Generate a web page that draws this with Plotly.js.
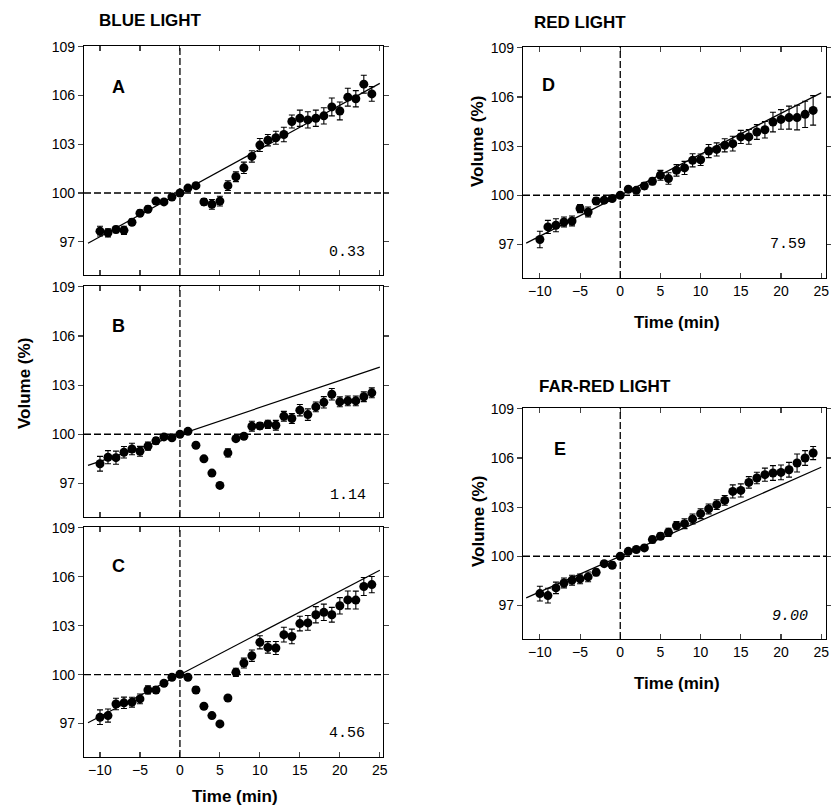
<!DOCTYPE html>
<html><head><meta charset="utf-8">
<script src="https://cdn.plot.ly/plotly-3.0.1.min.js"></script>
<style>html,body{margin:0;padding:0;background:#fff}#chart{width:831px;height:808px}</style>
</head><body><div id="chart"></div>
<script>
// ---- data ----
const time = [-10,-9,-8,-7,-6,-5,-4,-3,-2,-1,0,1,2,3,4,5,6,7,8,9,10,11,12,13,14,15,16,17,18,19,20,21,22,23,24];

const volA = [97.65,97.55,97.75,97.7,98.2,98.75,99.0,99.5,99.45,99.75,100.0,100.3,100.45,99.45,99.3,99.5,100.45,101.0,101.55,102.25,102.95,103.25,103.4,103.6,104.4,104.6,104.5,104.6,104.75,105.3,105.05,105.9,105.8,106.7,106.1];
const errA = [0.3,0.25,0.2,0.25,0.2,0.2,0.2,0.15,0.15,0.1,0,0.15,0.15,0.2,0.3,0.3,0.3,0.3,0.35,0.35,0.4,0.35,0.4,0.45,0.4,0.5,0.5,0.5,0.5,0.55,0.55,0.55,0.5,0.55,0.45];

const volB = [98.2,98.6,98.57,98.9,99.1,98.96,99.27,99.6,99.84,99.78,100.0,100.18,99.33,98.5,97.63,96.88,98.86,99.73,99.88,100.49,100.51,100.61,100.55,101.1,100.96,101.47,101.2,101.67,101.95,102.44,101.98,102.04,102.04,102.29,102.53];
const errB = [0.45,0.4,0.4,0.35,0.35,0.3,0.25,0.2,0.1,0.1,0,0.1,0.1,0.1,0.1,0.1,0.25,0.15,0.15,0.3,0.2,0.25,0.3,0.3,0.3,0.35,0.35,0.3,0.35,0.35,0.3,0.3,0.3,0.3,0.3];

const volC = [97.39,97.49,98.2,98.27,98.31,98.51,99.06,99.06,99.47,99.84,100.02,99.84,99.06,98.06,97.49,96.98,98.57,100.14,100.71,101.16,101.98,101.67,101.63,102.45,102.34,103.13,103.17,103.67,103.82,103.67,104.22,104.58,104.57,105.4,105.52];
const errC = [0.45,0.4,0.35,0.35,0.3,0.3,0.25,0.2,0.15,0.1,0,0.1,0.2,0.1,0.1,0.1,0.1,0.25,0.3,0.35,0.4,0.35,0.4,0.45,0.45,0.45,0.45,0.5,0.5,0.45,0.5,0.55,0.55,0.55,0.5];

const volD = [97.3,98.07,98.17,98.37,98.43,99.19,98.98,99.65,99.7,99.8,100.0,100.37,100.3,100.57,100.85,101.22,101.02,101.52,101.67,102.13,102.17,102.7,102.8,103.05,103.15,103.56,103.56,103.86,104.0,104.47,104.63,104.74,104.74,104.94,105.18];
const errD = [0.5,0.4,0.4,0.3,0.3,0.25,0.3,0.2,0.15,0.1,0,0.1,0.15,0.2,0.2,0.3,0.35,0.35,0.4,0.4,0.35,0.4,0.4,0.4,0.45,0.4,0.45,0.45,0.5,0.6,0.6,0.7,0.75,0.8,0.9];

const volE = [97.72,97.6,98.07,98.37,98.54,98.62,98.74,99.02,99.55,99.45,100.0,100.3,100.41,100.51,101.02,101.22,101.46,101.87,101.99,102.28,102.6,102.89,103.15,103.41,103.96,104.02,104.51,104.78,104.98,105.08,105.12,105.28,105.69,106.0,106.3];
const errE = [0.45,0.45,0.35,0.3,0.3,0.3,0.3,0.2,0.15,0.2,0,0.1,0.15,0.15,0.2,0.2,0.25,0.25,0.3,0.3,0.3,0.3,0.3,0.3,0.4,0.4,0.35,0.35,0.4,0.45,0.45,0.45,0.55,0.45,0.4];

// regression lines (pre-irradiation trend, extrapolated)
const fitXA = [-11.5, 25], fitYA = [96.9, 106.75];
const fitXB = [-11.5, 25], fitYB = [98.1, 104.1];
const fitXC = [-11.5, 25], fitYC = [97.05, 106.4];
const fitXD = [-11.7, 25], fitYD = [97.08, 106.25];
const fitXE = [-11.7, 25], fitYE = [97.46, 105.43];

const yTicks = [97, 100, 103, 106, 109];
const xTicks = [-10, -5, 0, 5, 10, 15, 20, 25];
const panelLetters = ['A', 'B', 'C', 'D', 'E'];
const rateLabels = ['0.33', '1.14', '4.56', '7.59', '9.00'];
const groupTitles = ['BLUE LIGHT', 'RED LIGHT', 'FAR-RED LIGHT'];
const yTitle = 'Volume (%)';
const xTitle = 'Time (min)';

// ---- build ----
const W = 831, H = 808;
const px = x => x / W;
const py = y => 1 - y / H;
const FONT = 'Liberation Sans, Arial, sans-serif';

const panels = [
  {vol: volA, err: errA, fx: fitXA, fy: fitYA},
  {vol: volB, err: errB, fx: fitXB, fy: fitYB},
  {vol: volC, err: errC, fx: fitXC, fy: fitYC},
  {vol: volD, err: errD, fx: fitXD, fy: fitYD},
  {vol: volE, err: errE, fx: fitXE, fy: fitYE}
];
// pixel boxes: [left, top, right, bottom]
const boxes = [
  [84, 46, 383, 275],
  [84, 286, 383, 517],
  [84, 527, 383, 757],
  [523, 47, 826, 278],
  [523, 408, 826, 639]
];
const xRanges = [[-12, 25.4], [-12, 25.4], [-12, 25.4], [-12.1, 25.6], [-12.1, 25.6]];
const showXLabels = [false, false, true, true, true];

const traces = [];
const layout = {
  width: W, height: H,
  margin: {l: 0, r: 0, t: 0, b: 0},
  paper_bgcolor: '#fff', plot_bgcolor: '#fff',
  showlegend: false,
  font: {family: FONT, color: '#000', size: 14},
  shapes: [], annotations: []
};

panels.forEach((p, i) => {
  const n = i + 1;
  const xa = 'x' + (n === 1 ? '' : n), ya = 'y' + (n === 1 ? '' : n);
  traces.push({
    x: p.fx, y: p.fy, xaxis: xa, yaxis: ya, mode: 'lines', type: 'scatter',
    line: {color: '#000', width: 1.2}, hoverinfo: 'skip'
  });
  traces.push({
    x: time, y: p.vol, xaxis: xa, yaxis: ya, mode: 'markers', type: 'scatter',
    marker: {color: '#000', size: 9},
    error_y: {type: 'data', array: p.err, visible: true, color: '#000', thickness: 1.1, width: 3}
  });
  const b = boxes[i];
  layout['xaxis' + (n === 1 ? '' : n)] = {
    domain: [px(b[0]), px(b[2])], anchor: ya, range: xRanges[i],
    tickmode: 'array', tickvals: xTicks, ticks: 'inside', ticklen: 5, tickwidth: 1.1,
    showticklabels: showXLabels[i], tickfont: {size: 14, family: FONT}, ticklabeloverflow: 'allow',
    showline: true, linecolor: '#000', linewidth: 1.2, mirror: 'ticks',
    showgrid: false, zeroline: false, fixedrange: true
  };
  layout['yaxis' + (n === 1 ? '' : n)] = {
    domain: [py(b[3]), py(b[1])], anchor: xa, range: [94.95, 109.05],
    tickmode: 'array', tickvals: yTicks, ticks: 'outside', ticklen: 5, tickwidth: 1.1,
    tickfont: {size: 14, family: FONT},
    showline: true, linecolor: '#000', linewidth: 1.2, mirror: 'ticks',
    showgrid: false, zeroline: false, fixedrange: true
  };
  // dashed reference lines
  layout.shapes.push({type: 'line', xref: xa + ' domain', x0: 0, x1: 1, yref: ya, y0: 100, y1: 100,
    line: {color: '#000', width: 1.3, dash: '7px,3px'}});
  layout.shapes.push({type: 'line', xref: xa, x0: 0, x1: 0, yref: ya + ' domain', y0: 0, y1: 1,
    line: {color: '#000', width: 1.3, dash: '7px,3px'}});
});

// panel letters
const letterPos = [[118, 87], [118, 326], [118, 566], [548, 85], [560, 449]];
letterPos.forEach((pp, i) => layout.annotations.push({
  xref: 'paper', yref: 'paper', x: px(pp[0]), y: py(pp[1]), xanchor: 'center', yanchor: 'middle',
  text: '<b>' + panelLetters[i] + '</b>', showarrow: false, font: {size: 18, family: FONT}
}));
// rate numbers
const ratePos = [[367, 253], [368, 495], [367, 733], [808, 245], [810, 616]];
ratePos.forEach((pp, i) => layout.annotations.push({
  xref: 'paper', yref: 'paper', x: px(pp[0]), y: py(pp[1]), xanchor: 'right', yanchor: 'middle',
  text: i === 4 ? '<i>' + rateLabels[i] + '</i>' : rateLabels[i], showarrow: false,
  font: {size: 15, family: 'Liberation Mono, DejaVu Sans Mono, monospace'}
}));
// group titles
const titlePos = [[97, 20], [532, 22], [537, 386]];
titlePos.forEach((pp, i) => layout.annotations.push({
  xref: 'paper', yref: 'paper', x: px(pp[0]), y: py(pp[1]), xanchor: 'left', yanchor: 'middle',
  text: '<b>' + groupTitles[i] + '</b>', showarrow: false, font: {size: 17, family: FONT}
}));
// axis titles
[[24, 384], [478, 142], [478, 522]].forEach(pp => layout.annotations.push({
  xref: 'paper', yref: 'paper', x: px(pp[0]), y: py(pp[1]), xanchor: 'center', yanchor: 'middle',
  text: '<b>' + yTitle + '</b>', textangle: -90, showarrow: false, font: {size: 17, family: FONT}
}));
[[235, 796], [677, 322], [677, 683]].forEach(pp => layout.annotations.push({
  xref: 'paper', yref: 'paper', x: px(pp[0]), y: py(pp[1]), xanchor: 'center', yanchor: 'middle',
  text: '<b>' + xTitle + '</b>', showarrow: false, font: {size: 17, family: FONT}
}));

Plotly.newPlot('chart', traces, layout, {staticPlot: true, displayModeBar: false});
</script>
</body></html>
